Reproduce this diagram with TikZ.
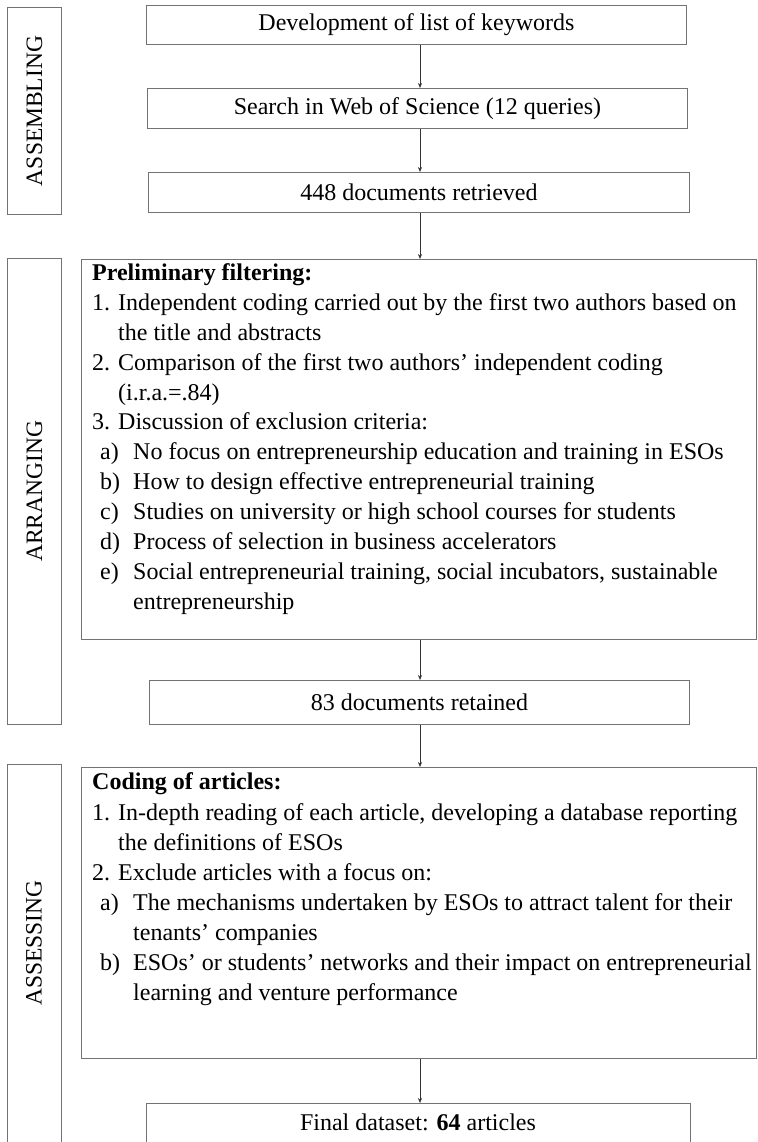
\documentclass[tikz,border=0pt]{standalone}
\usepackage{fontspec}
\setmainfont{Liberation Serif}
\usetikzlibrary{arrows.meta}
\begin{document}
\begin{tikzpicture}[x=1pt,y=-1pt,
  frame/.style={draw=black!55, line width=0.9pt},
  stagebox/.style={frame, anchor=north west, inner sep=0pt},
  stagelabel/.style={rotate=90, font=\fontsize{23.5}{28}\selectfont},
  stepbox/.style={frame, anchor=north west, inner sep=0pt},
  steptext/.style={inner sep=0pt, font=\fontsize{24}{28}\selectfont},
  line/.style={anchor=base west, inner sep=0pt, font=\fontsize{24}{28}\selectfont},
  flow/.style={draw=black!80, line width=0.7pt, -{Stealth[length=5pt,width=4pt]}}]
\useasboundingbox (0,0) rectangle (757,1142);
\clip (0,0) rectangle (757,1142);

% stage frames on the left
\node[stagebox, minimum width=54pt, minimum height=207pt] (sA) at (7,7) {};
\node[stagebox, minimum width=54pt, minimum height=466pt] (sB) at (7,258) {};
\node[stagebox, minimum width=54pt, minimum height=400pt] (sC) at (7,764) {};
\node[stagelabel] (tA) at (sA.center) {ASSEMBLING};
\node[stagelabel] (tB) at (sB.center) {ARRANGING};
\node[stagelabel] (tC) at (34,943) {ASSESSING};

% process boxes
\node[stepbox, minimum width=540pt, minimum height=39pt] (b1) at (146,5) {};
\node[steptext] (b1t) at (b1.center) {Development of list of keywords};
\node[stepbox, minimum width=540pt, minimum height=40pt] (b2) at (147,88) {};
\node[steptext] (b2t) at (b2.center) {Search in Web of Science (12 queries)};
\node[stepbox, minimum width=541pt, minimum height=40pt] (b3) at (148,172) {};
\node[steptext] (b3t) at (b3.center) {448 documents retrieved};
\node[stepbox, minimum width=675pt, minimum height=380pt] (b4) at (81,259) {};
\node[stepbox, minimum width=540pt, minimum height=44pt] (b5) at (149,680) {};
\node[steptext] (b5t) at (b5.center) {83 documents retained};
\node[stepbox, minimum width=544pt, minimum height=60pt] (b7) at (146,1103) {};
\node[steptext] (b7t) at (418,1122) {Final dataset: \textbf{64} articles};
\node[stepbox, minimum width=675pt, minimum height=291pt] (b6) at (81,767) {};

% preliminary filtering text
\node[line] (p0) at (92,280) {\textbf{Preliminary filtering:}};
\node[line] (p1) at (92,310) {\makebox[26pt][l]{1.}Independent coding carried out by the first two authors based on};
\node[line] (p1b) at (118,340) {the title and abstracts};
\node[line] (p2) at (92,370) {\makebox[26pt][l]{2.}Comparison of the first two authors’ independent coding};
\node[line] (p2b) at (118,400) {(i.r.a.=.84)};
\node[line] (p3) at (92,429) {\makebox[26pt][l]{3.}Discussion of exclusion criteria:};
\node[line] (pa) at (100,459) {\makebox[33pt][l]{a)}No focus on entrepreneurship education and training in ESOs};
\node[line] (pb) at (100,489) {\makebox[33pt][l]{b)}How to design effective entrepreneurial training};
\node[line] (pc) at (100,519) {\makebox[33pt][l]{c)}Studies on university or high school courses for students};
\node[line] (pd) at (100,549) {\makebox[33pt][l]{d)}Process of selection in business accelerators};
\node[line] (pe) at (100,579) {\makebox[33pt][l]{e)}Social entrepreneurial training, social incubators, sustainable};
\node[line] (peb) at (133,609) {entrepreneurship};

% coding of articles text
\node[line] (c0) at (92,789) {\textbf{Coding of articles:}};
\node[line] (c1) at (92,820) {\makebox[26pt][l]{1.}In-depth reading of each article, developing a database reporting};
\node[line] (c1b) at (118,850) {the definitions of ESOs};
\node[line] (c2) at (92,880) {\makebox[26pt][l]{2.}Exclude articles with a focus on:};
\node[line] (ca) at (100,910) {\makebox[33pt][l]{a)}The mechanisms undertaken by ESOs to attract talent for their};
\node[line] (cab) at (133,940) {tenants’ companies};
\node[line] (cb) at (100,970) {\makebox[33pt][l]{b)}ESOs’ or students’ networks and their impact on entrepreneurial};
\node[line] (cbb) at (133,1000) {learning and venture performance};

% connectors between the process boxes
\draw[flow] (b1.south -| 420,0) -- (b2.north -| 420,0);
\draw[flow] (b2.south -| 420,0) -- (b3.north -| 420,0);
\draw[flow] (b3.south -| 420,0) -- (b4.north -| 420,0);
\draw[flow] (b4.south -| 420,0) -- (b5.north -| 420,0);
\draw[flow] (b5.south -| 420,0) -- (b6.north -| 420,0);
\draw[flow] (b6.south -| 420,0) -- (b7.north -| 420,0);
\end{tikzpicture}
\end{document}
